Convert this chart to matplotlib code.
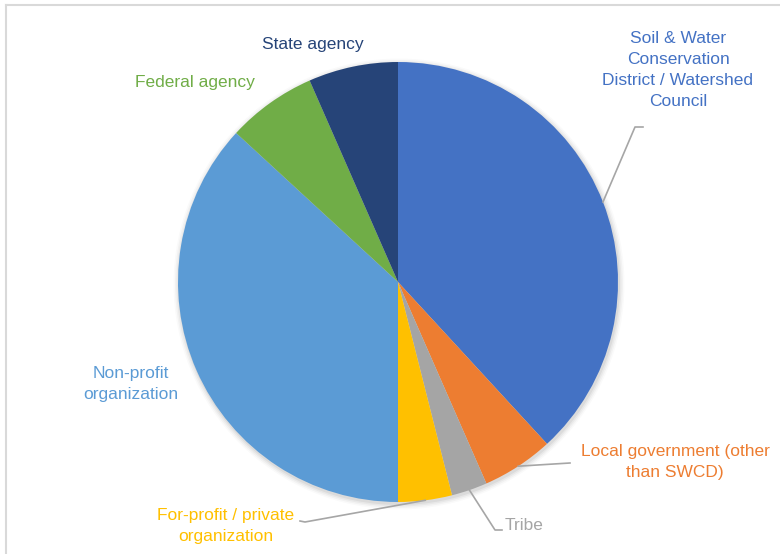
import numpy as np
import matplotlib.pyplot as plt
from matplotlib import font_manager

labels = ['Soil & Water\nConservation\nDistrict / Watershed\nCouncil',
          'Local government (other\nthan SWCD)',
          'Tribe',
          'For-profit / private\norganization',
          'Non-profit\norganization',
          'Federal agency',
          'State agency']
counts = [29, 4, 2, 3, 28, 5, 5]
colors = ['#4472C4', '#ED7D31', '#A5A5A5', '#FFC000', '#5B9BD5', '#70AD47', '#264478']

names = [f.name for f in font_manager.fontManager.ttflist]
fam = 'Liberation Sans Narrow' if 'Liberation Sans Narrow' in names else 'Liberation Sans'
plt.rcParams['font.family'] = [fam, 'DejaVu Sans']

W, H = 780, 554
fig = plt.figure(figsize=(W / 100, H / 100), dpi=100)
ax = fig.add_axes([0, 0, 1, 1])

def P(x, y):
    # pixel coords (from top-left) -> data coords
    return x, H - y

cx, cy = P(398, 282)
R = 220

# soft shadow
for i, a in enumerate([0.05, 0.04, 0.03, 0.02]):
    ax.add_patch(plt.Circle((cx + 1, cy - 2), R + 1 + i * 1.5, color='black', alpha=a, lw=0, zorder=0))

wedges, _ = ax.pie(counts, colors=colors, startangle=90, counterclock=False,
                   center=(cx, cy), radius=R, wedgeprops=dict(linewidth=0),
                   frame=True)
ax.set_xlim(0, W)
ax.set_ylim(0, H)
ax.set_aspect('equal')
ax.axis('off')

# frame lines (top and left)
ax.plot([6, 6], [0, H - 5], color='#D9D9D9', lw=1.5, zorder=5)
ax.plot([6, W], [H - 5, H - 5], color='#D9D9D9', lw=1.5, zorder=5)

def edge_point(w):
    ang = np.deg2rad((w.theta1 + w.theta2) / 2)
    return cx + R * np.cos(ang), cy + R * np.sin(ang)

lc = '#A6A6A6'
# leader lines: wedge index -> pixel points after the wedge edge point
leaders = {0: [(635, 127), (643, 127)],
           1: [(570, 463)],
           2: [(495, 530), (502, 530)],
           3: [(305, 522), (300, 521)]}
for i, pts in leaders.items():
    x0, y0 = edge_point(wedges[i])
    xs = [x0] + [p[0] for p in pts]
    ys = [y0] + [H - p[1] for p in pts]
    ax.plot(xs, ys, color=lc, lw=1.2, zorder=4)

fs = 12.5
# label block centers in pixels
pos = [(678, 70, 'center'),
       (675, 462, 'center'),
       (505, 525, 'left'),
       (226, 526, 'center'),
       (131, 384, 'center'),
       (195, 82, 'center'),
       (313, 45, 'center')]
for lab, col, (x, y, ha) in zip(labels, colors, pos):
    ax.text(*P(x, y), lab, color=col, fontsize=fs, ha=ha, va='center',
            multialignment='center', linespacing=1.52)

fig.savefig('out.png', dpi=100)
